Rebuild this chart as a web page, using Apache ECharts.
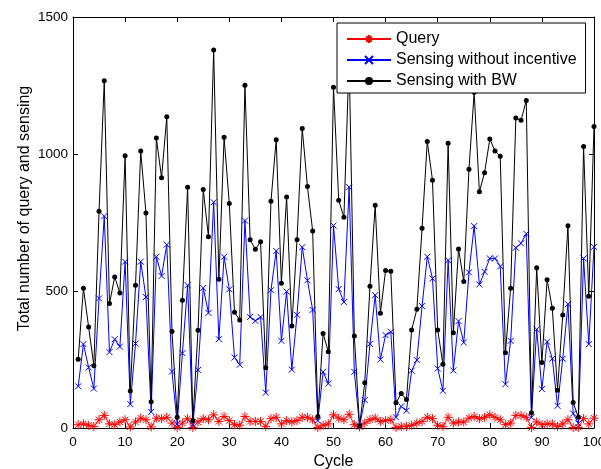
<!DOCTYPE html>
<html>
<head>
<meta charset="utf-8">
<script src="https://cdn.jsdelivr.net/npm/echarts@6/dist/echarts.min.js"></script>
<style>html,body{margin:0;padding:0;background:#fff;}#c{width:601px;height:469px;}</style>
</head>
<body>
<div id="c"></div>
<script>
const cycles = Array.from({length: 100}, (_, i) => i + 1);
const xTicks = [0, 10, 20, 30, 40, 50, 60, 70, 80, 90, 100];
const yTicks = [0, 500, 1000, 1500];
const seriesNames = ['Query', 'Sensing without incentive', 'Sensing with BW'];

const query = [12,15,10,6,30,46,15,12,22,30, 4,22,36,30,4,36,34,39,18,2,
  18,34,2,22,34,30,48,24,42,27, 12,10,42,24,24,24,6,34,39,15,
  27,22,27,39,39,30,2,10,15,48, 36,30,50,12,4,18,30,36,24,27,
  30,2,6,6,10,18,24,39,34,10, 6,39,18,22,22,36,42,34,39,48,
  39,30,12,18,46,46,39,2,22,12, 15,15,6,15,30,2,2,34,15,36];

const sensingNoIncentive = [152,306,221,144,473,773,277,324,297,607, 87,308,607,478,59,625,555,669,206,15,
  273,521,12,212,511,420,824,324,625,506, 257,231,757,405,391,405,129,503,646,318,
  498,213,413,660,539,431,27,205,162,739, 507,460,879,205,8,102,307,485,250,339,
  351,39,79,63,209,248,445,625,546,217, 136,612,210,390,312,568,737,524,570,619,
  619,590,160,318,658,674,709,39,360,142, 315,253,81,253,452,53,17,619,306,661];

const sensingBW = [251,510,369,227,791,1267,454,551,493,994, 135,521,1011,785,96,1058,913,1136,352,39,
  466,879,27,357,870,698,1380,543,1061,819, 422,394,1251,687,652,680,220,828,1052,528,
  843,372,687,1093,881,719,42,345,278,1244, 831,769,1350,336,8,165,517,813,419,575,
  572,92,126,104,358,433,729,1046,904,358, 233,1039,348,653,535,944,1225,862,932,1055,
  1011,992,275,510,1131,1123,1195,56,585,239, 541,437,138,412,738,93,39,1027,481,1100];

const pairs = (ys) => cycles.map((c, i) => [c, ys[i]]);
const FONT = '"Liberation Sans", Arial, sans-serif';

const chart = echarts.init(document.getElementById('c'), null, {renderer: 'canvas'});
const tickInside = {show: true, inside: true, length: 5, lineStyle: {color: '#000', width: 1}};
chart.setOption({
  animation: false,
  backgroundColor: '#fff',
  grid: {left: 73, right: 7, top: 17, bottom: 41, show: false, containLabel: false, outerBoundsMode: 'none'},
  legend: {
    orient: 'vertical', left: 337, top: 23,
    padding: [8, 9, 4, 9], itemGap: 5, itemWidth: 44, itemHeight: 10,
    backgroundColor: '#fff', borderColor: '#000', borderWidth: 1,
    textStyle: {fontFamily: FONT, fontSize: 16, color: '#000', lineHeight: 16},
    data: seriesNames
  },
  xAxis: [{
    type: 'value', min: xTicks[0], max: xTicks[xTicks.length - 1], interval: 10,
    name: 'Cycle', nameLocation: 'middle', nameGap: 26, nameMoveOverlap: false,
    nameTextStyle: {fontFamily: FONT, fontSize: 16, color: '#000'},
    axisLine: {show: true, onZero: false, lineStyle: {color: '#000', width: 1}},
    axisTick: tickInside,
    axisLabel: {fontFamily: FONT, fontSize: 13.5, color: '#000', margin: 7, formatter: (v) => String(v)},
    splitLine: {show: false}
  }, {
    type: 'value', position: 'top', min: xTicks[0], max: xTicks[xTicks.length - 1], interval: 10,
    axisLine: {show: true, onZero: false, lineStyle: {color: '#000', width: 1}},
    axisTick: tickInside, axisLabel: {show: false}, splitLine: {show: false}
  }],
  yAxis: [{
    type: 'value', min: yTicks[0], max: yTicks[yTicks.length - 1], interval: 500,
    name: 'Total number of query and sensing', nameLocation: 'middle', nameGap: 40, nameMoveOverlap: false,
    nameTextStyle: {fontFamily: FONT, fontSize: 16, color: '#000', padding: [0, 0, 0, 28]},
    axisLine: {show: true, onZero: false, lineStyle: {color: '#000', width: 1}},
    axisTick: tickInside,
    axisLabel: {fontFamily: FONT, fontSize: 13.5, color: '#000', margin: 5, formatter: (v) => String(v)},
    splitLine: {show: false}
  }, {
    type: 'value', position: 'right', min: yTicks[0], max: yTicks[yTicks.length - 1], interval: 500,
    axisLine: {show: true, onZero: false, lineStyle: {color: '#000', width: 1}},
    axisTick: tickInside, axisLabel: {show: false}, splitLine: {show: false}
  }],
  series: [{
    name: seriesNames[0], type: 'line', data: pairs(query),
    symbol: 'path://M0,-10L0,10M-10,0L10,0M-7,-7L7,7M-7,7L7,-7', symbolSize: 9,
    lineStyle: {color: '#ff0000', width: 1},
    itemStyle: {color: '#ff0000', borderColor: '#ff0000', borderWidth: 1}
  }, {
    name: seriesNames[1], type: 'line', data: pairs(sensingNoIncentive),
    symbol: 'path://M-10,-10L10,10M-10,10L10,-10', symbolSize: 6,
    lineStyle: {color: '#0000ff', width: 1},
    itemStyle: {color: '#0000ff', borderColor: '#0000ff', borderWidth: 1}
  }, {
    name: seriesNames[2], type: 'line', data: pairs(sensingBW),
    symbol: 'circle', symbolSize: 5,
    lineStyle: {color: '#000000', width: 1},
    itemStyle: {color: '#000000', borderWidth: 0}
  }]
});
</script>
</body>
</html>
